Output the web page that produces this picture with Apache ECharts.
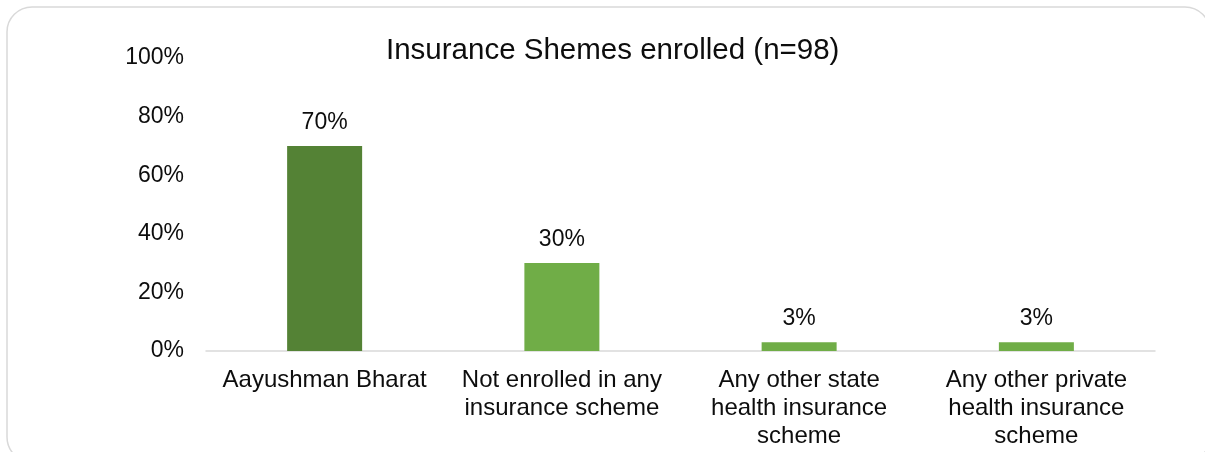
<!DOCTYPE html>
<html>
<head>
<meta charset="utf-8">
<script src="https://cdn.jsdelivr.net/npm/echarts@6/dist/echarts.min.js"></script>
<style>
  html, body { margin: 0; padding: 0; background: #fff; }
  #chart { width: 1205px; height: 452px; }
</style>
</head>
<body>
<div id="chart"></div>
<script>
// data
var categories = [
    'Aayushman Bharat',
    'Not enrolled in any\ninsurance scheme',
    'Any other state\nhealth insurance\nscheme',
    'Any other private\nhealth insurance\nscheme'
];
var values = [70, 30, 3, 3];
var barColors = ['#548235', '#70ad47', '#70ad47', '#70ad47'];
var yTicks = [0, 20, 40, 60, 80, 100];

(function () {
    var myChart = echarts.init(document.getElementById('chart'));
    var font = 'Liberation Sans, Arial, sans-serif';

    var option = {
        backgroundColor: '#fff',
        animation: false,
        title: {
            text: 'Insurance Shemes enrolled (n=98)',
            left: 381,
            top: 31,
            textStyle: {
                color: '#0d0d0d',
                fontFamily: font,
                fontSize: 29.5,
                fontWeight: 'normal'
            }
        },
        graphic: [
            {
                type: 'rect',
                shape: { x: 7, y: 7, width: 1203, height: 455, r: 25 },
                style: { fill: 'none', stroke: '#d9d9d9', lineWidth: 1.5 },
                silent: true
            }
        ],
        grid: {
            left: 206,
            right: 50,
            top: 58,
            bottom: 101
        },
        xAxis: {
            type: 'category',
            data: categories,
            axisTick: { show: false },
            axisLine: { lineStyle: { color: '#d9d9d9', width: 1.5 } },
            axisLabel: {
                interval: 0,
                margin: 15,
                color: '#0d0d0d',
                fontFamily: font,
                fontSize: 24,
                lineHeight: 28
            }
        },
        yAxis: {
            type: 'value',
            min: yTicks[0],
            max: yTicks[yTicks.length - 1],
            interval: 20,
            axisLine: { show: false },
            axisTick: { show: false },
            splitLine: { show: false },
            axisLabel: {
                margin: 22,
                color: '#0d0d0d',
                fontFamily: font,
                fontSize: 23,
                formatter: '{value}%'
            }
        },
        series: [
            {
                type: 'bar',
                barWidth: 75,
                data: values.map(function (v, i) {
                    return { value: v, itemStyle: { color: barColors[i] } };
                }),
                label: {
                    show: true,
                    position: 'top',
                    distance: 12,
                    color: '#0d0d0d',
                    fontFamily: font,
                    fontSize: 23,
                    formatter: '{c}%'
                }
            }
        ]
    };

    myChart.setOption(option);

    window.addEventListener('resize', function () {
        myChart.resize();
    });
})();
</script>
</body>
</html>
